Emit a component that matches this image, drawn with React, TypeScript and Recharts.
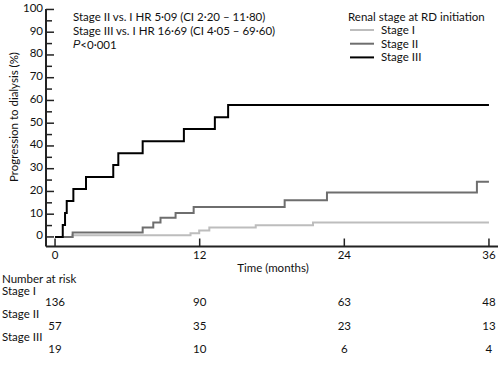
import React from "react";
import { LineChart, Line, XAxis, YAxis } from "recharts";

// Kaplan-Meier steps (months, % progressed)
const stage1Times = [0, 1.44, 11.24, 11.96, 12.8, 16.65, 21.4, 36];
const stage1Values = [0, 0.8, 1.6, 2.8, 4.1, 5.1, 6.3, 6.3];

const stage2Times = [0, 1.46, 7.27, 8.15, 8.75, 10.0, 11.5, 19.05, 22.56, 35.0, 36];
const stage2Values = [0, 1.9, 4.1, 6.3, 8.4, 10.5, 13.2, 16.1, 19.5, 24.3, 24.3];

const stage3Times = [0, 0.64, 0.83, 0.97, 1.52, 2.57, 4.83, 5.25, 7.27, 10.69, 13.26, 14.36, 36];
const stage3Values = [0, 5.3, 10.5, 15.8, 21.1, 26.3, 31.6, 36.8, 42.1, 47.4, 52.6, 58.0, 58.0];

const xTicks = [0, 12, 24, 36];
const yTicks = [0, 5, 10, 15, 20, 25, 30, 35, 40, 45, 50, 55, 60, 65, 70, 75, 80, 85, 90, 95, 100];

const riskTimes = [0, 12, 24, 36];
const stage1Risk = [136, 90, 63, 48];
const stage2Risk = [57, 35, 23, 13];
const stage3Risk = [19, 10, 6, 4];

const seriesNames = ["Stage I", "Stage II", "Stage III"];
const seriesColors = ["#bdbdbd", "#6e6e6e", "#000000"];

const toPoints = (times: number[], values: number[]) =>
  times.map((t, i) => ({ t, v: values[i] }));

const FONT = "Lato, 'Noto Sans', sans-serif";
const FS = 11.5;

// plot geometry
const W = 500;
const H = 367;
const LEFT = 46;
const RIGHT = 498;
const TOP = 9;
const BOTTOM = 246.5;
const X_DOMAIN: [number, number] = [-0.75, 36.75];
const Y_DOMAIN: [number, number] = [-4.2, 100.2];

const xPos = (t: number) =>
  LEFT + ((t - X_DOMAIN[0]) / (X_DOMAIN[1] - X_DOMAIN[0])) * (RIGHT - LEFT);

function YTick(props: any) {
  const { y, payload } = props;
  const major = payload.value % 10 === 0;
  return (
    <g>
      <line x1={LEFT} x2={LEFT + (major ? 8 : 6)} y1={y} y2={y} stroke="#222" strokeWidth={1.5} />
      {major && (
        <text x={43} y={y - 2} textAnchor="end" dominantBaseline="central" fontSize={FS} fontFamily={FONT} fill="#111">
          {payload.value}
        </text>
      )}
    </g>
  );
}

function XTick(props: any) {
  const { x, payload } = props;
  return (
    <g>
      <line x1={x} x2={x} y1={BOTTOM} y2={BOTTOM - 8} stroke="#222" strokeWidth={1.5} />
      <text x={x} y={254} textAnchor="middle" dominantBaseline="central" fontSize={FS} fontFamily={FONT} fill="#111">
        {payload.value}
      </text>
    </g>
  );
}

export default function App() {
  const series = [
    toPoints(stage1Times, stage1Values),
    toPoints(stage2Times, stage2Values),
    toPoints(stage3Times, stage3Values),
  ];
  const risks = [stage1Risk, stage2Risk, stage3Risk];

  return (
    <div style={{ position: "absolute", left: 0, top: 0, width: W, height: H, background: "#fff" }}>
      <LineChart
        width={W}
        height={H}
        margin={{ top: TOP, right: W - RIGHT, bottom: H - BOTTOM - 20, left: LEFT - 40 }}
      >
        <XAxis
          type="number"
          dataKey="t"
          domain={X_DOMAIN}
          ticks={xTicks}
          allowDataOverflow
          height={20}
          axisLine={{ stroke: "#222", strokeWidth: 2 }}
          tickLine={false}
          tick={<XTick />}
        />
        <YAxis
          type="number"
          dataKey="v"
          domain={Y_DOMAIN}
          ticks={yTicks}
          allowDataOverflow
          width={40}
          interval={0}
          axisLine={{ stroke: "#222", strokeWidth: 2 }}
          tickLine={false}
          tick={<YTick />}
        />
        {series.map((d, i) => (
          <Line
            key={seriesNames[i]}
            data={d}
            dataKey="v"
            type="stepAfter"
            stroke={seriesColors[i]}
            strokeWidth={2}
            dot={false}
            isAnimationActive={false}
          />
        ))}
      </LineChart>
      <svg
        width={W}
        height={H}
        style={{ position: "absolute", left: 0, top: 0, pointerEvents: "none" }}
        fontFamily={FONT}
        fontSize={FS}
        fill="#111"
      >
        <text x={13} y={117} transform="rotate(-90 13 117)" textAnchor="middle" dominantBaseline="central">
          Progression to dialysis (%)
        </text>
        <text x={73} y={16} dominantBaseline="central">Stage II vs. I HR 5·09 (CI 2·20 – 11·80)</text>
        <text x={73} y={30} dominantBaseline="central">Stage III vs. I HR 16·69 (CI 4·05 – 69·60)</text>
        <text x={73} y={44} dominantBaseline="central">
          <tspan fontStyle="italic" fontFamily="'Liberation Sans', 'DejaVu Sans', sans-serif" fontSize={FS - 0.5}>P</tspan>&lt;0·001
        </text>

        <text x={348} y={16} dominantBaseline="central">Renal stage at RD initiation</text>
        {seriesNames.map((n, i) => (
          <g key={n}>
            <line x1={350} x2={374} y1={30 + i * 13.7} y2={30 + i * 13.7} stroke={seriesColors[i]} strokeWidth={2} />
            <text x={381} y={29.3 + i * 13.7} dominantBaseline="central">{n}</text>
          </g>
        ))}

        <text x={273} y={267} textAnchor="middle" dominantBaseline="central">Time (months)</text>
        <text x={2} y={278.5} dominantBaseline="central">Number at risk</text>
        {seriesNames.map((n, i) => (
          <g key={n}>
            <text x={2} y={290 + i * 23.3} dominantBaseline="central">{n}</text>
            {riskTimes.map((t, j) => (
              <text key={t} x={xPos(t)} y={301.7 + i * 23.3} textAnchor="middle" dominantBaseline="central">
                {risks[i][j]}
              </text>
            ))}
          </g>
        ))}
      </svg>
    </div>
  );
}
